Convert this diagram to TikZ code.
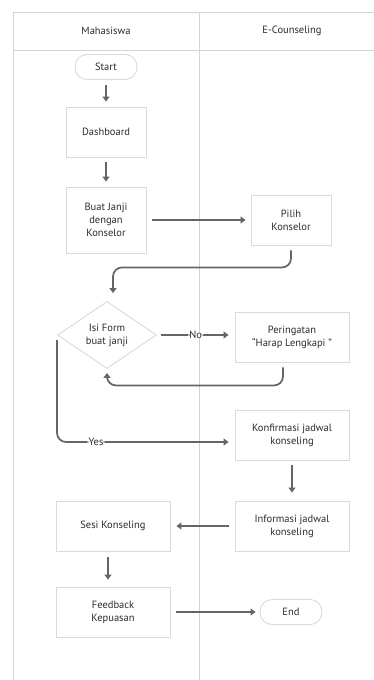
\documentclass[tikz,border=0pt]{standalone}
\usepackage{fontspec}
\setmainfont{PT Sans}
\usetikzlibrary{positioning,calc,shapes.geometric,arrows.meta}
\definecolor{lanecol}{HTML}{CDD5DD}
\definecolor{boxcol}{HTML}{DADADA}
\definecolor{flowcol}{HTML}{5E676E}
\definecolor{txtcol}{HTML}{2C2C2C}
\tikzset{
  stepbox/.style={draw=boxcol,line width=0.9pt,fill=white,text=txtcol,align=center,font=\fontsize{10.5}{13}\selectfont,inner sep=2pt},
  pill/.style={stepbox,rounded corners=12pt,minimum width=62pt,minimum height=25pt},
  decide/.style={stepbox,diamond,aspect=1.5,inner sep=0pt,minimum width=99pt,minimum height=67pt},
  flow/.style={draw=flowcol,line width=1.7pt,-{Triangle[length=5pt,width=7pt]},rounded corners=9pt},
  flowlabel/.style={fill=white,text=txtcol,font=\fontsize{10.5}{13}\selectfont,inner sep=1pt}
}
\begin{document}
\begin{tikzpicture}[x=1pt,y=-1pt]
\useasboundingbox (0,0) rectangle (374,680);
\fill[white] (0,0) rectangle (374,680);
% swimlanes
\draw[lanecol,line width=0.9pt] (374,12) -- (13,12) -- (13,680);
\draw[lanecol,line width=0.9pt] (13,50) -- (374,50);
\draw[lanecol,line width=0.9pt] (199,12) -- (199,680);
\node[text=txtcol,font=\fontsize{10.5}{13}\selectfont] (laneA) at (106,31) {Mahasiswa};
\node[text=txtcol,font=\fontsize{10.5}{13}\selectfont] (laneB) at (292,31) {E-Counseling};

\node[pill] (start) at (106,67) {Start};
\node[stepbox,minimum width=80pt,minimum height=50pt] (dash) at (106,132) {Dashboard};
\node[stepbox,minimum width=80pt,minimum height=66pt] (janji) at (106,220) {Buat Janji\\dengan\\Konselor};
\node[stepbox,minimum width=80pt,minimum height=50pt] (pilih) at (291,220) {Pilih\\Konselor};
\node[decide] (form) at (107,335) {Isi Form\\buat janji};
\node[stepbox,minimum width=114pt,minimum height=50pt] (warn) at (292,337) {Peringatan\\``Harap Lengkapi ''};
\node[stepbox,minimum width=114pt,minimum height=50pt] (konf) at (292,435) {Konfirmasi jadwal\\konseling};
\node[stepbox,minimum width=114pt,minimum height=50pt] (info) at (292,526) {Informasi jadwal\\konseling};
\node[stepbox,minimum width=114pt,minimum height=50pt] (sesi) at (113,526) {Sesi Konseling};
\node[stepbox,minimum width=114pt,minimum height=50pt] (feed) at (113,612) {Feedback\\Kepuasan};
\node[pill] (ende) at (291,612) {End};

\draw[flow,shorten <=5pt,shorten >=5pt] (start) -- (dash);
\draw[flow,shorten <=5pt,shorten >=5pt] (dash) -- (janji);
\draw[flow,shorten <=6pt,shorten >=5pt] (janji) -- (pilih);
\draw[flow,shorten <=5pt,shorten >=8pt] (pilih.south) -- ++(0,22) -| ([xshift=6pt]form.north);
\draw[flow,shorten <=4pt,shorten >=6pt] (form.east) -- node[flowlabel]{No} (form.east -| warn.west);
\draw[flow,shorten <=5pt,shorten >=4pt] ([xshift=-9pt]warn.south) -- ++(0,23) -| (form.south);
\draw[flow,shorten <=5pt,shorten >=6pt] (form.west) |- node[flowlabel,pos=0.61]{Yes} ([yshift=-7pt]konf.west);
\draw[flow,shorten <=5pt,shorten >=8pt] (konf) -- (info);
\draw[flow,shorten <=6pt,shorten >=6pt] (info) -- (sesi);
\draw[flow,shorten <=6pt,shorten >=7pt] ([xshift=-5pt]sesi.south) -- ([xshift=-5pt]feed.north);
\draw[flow,shorten <=6pt,shorten >=4pt] (feed) -- (ende);
\end{tikzpicture}
\end{document}
